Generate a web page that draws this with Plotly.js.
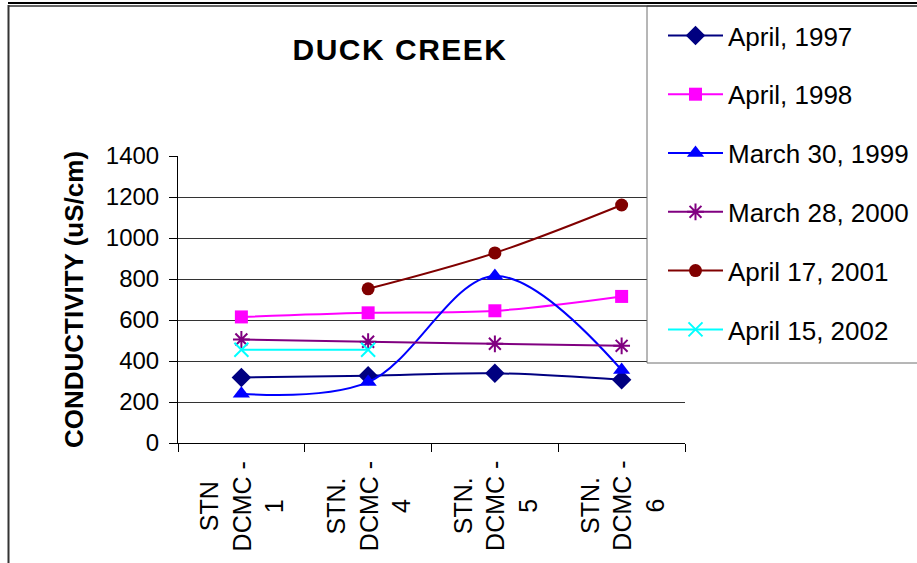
<!DOCTYPE html>
<html>
<head>
<meta charset="utf-8">
<script src="https://cdn.plot.ly/plotly-3.0.1.min.js"></script>
<style>
  html, body { margin: 0; padding: 0; background: #ffffff; }
  #chart { width: 917px; height: 563px; }
  /* the heading is set wide, with slightly open letter spacing */
  #chart .gtitle { letter-spacing: 1.5px; }
</style>
</head>
<body>
<div id="chart"></div>
<script>
// Sampling stations along Duck Creek (category axis)
const stations = ['STN<br>DCMC -<br>1', 'STN.<br>DCMC -<br>4', 'STN.<br>DCMC -<br>5', 'STN.<br>DCMC -<br>6'];

// Conductivity readings (uS/cm) per survey
const seriesNames = ['April, 1997', 'April, 1998', 'March 30, 1999', 'March 28, 2000', 'April 17, 2001', 'April 15, 2002'];
const apr1997 = [320, 328, 340, 308];
const apr1998 = [615, 635, 645, 715];
const mar1999 = [240, 297, 815, 356];
const mar2000 = [505, 494, 484, 474];
const apr2001 = [null, 752, 927, 1161];
const apr2002 = [455, 455, null, null];

const yTicks = [0, 200, 400, 600, 800, 1000, 1200, 1400];

const FONT = 'Liberation Sans, Arial, sans-serif';

// Plot-area geometry in pixels, used to place the frame and legend box
const W = 917, H = 563;
const M = { l: 178, r: 232, t: 156, b: 120 };
const pw = W - M.l - M.r, ph = H - M.t - M.b;
const px = v => (v - M.l) / pw;          // pixel x -> paper x
const py = v => (H - M.b - v) / ph;      // pixel y -> paper y

const styles = [
  { color: '#000080', symbol: 'diamond', size: 15 },
  { color: '#FF00FF', symbol: 'square', size: 13 },
  { color: '#0000FF', symbol: 'triangle-up', size: 15 },
  { color: '#800080', symbol: 'asterisk-open', size: 14 },
  { color: '#800000', symbol: 'circle', size: 13 },
  { color: '#00FFFF', symbol: 'x-thin-open', size: 14 }
];
const values = [apr1997, apr1998, mar1999, mar2000, apr2001, apr2002];

const traces = values.map((vals, i) => {
  const s = styles[i];
  const open = s.symbol.endsWith('open');
  return {
    type: 'scatter',
    mode: 'lines+markers',
    name: seriesNames[i],
    legendgroup: 'g' + i,
    x: stations,
    y: vals,
    connectgaps: false,
    line: { color: s.color, width: 2, shape: 'spline', smoothing: 1 },
    marker: {
      symbol: s.symbol,
      size: s.size,
      color: s.color,
      line: { color: s.color, width: open ? 2 : 0 }
    }
  };
});

// Rotated, centred station labels under each category
const stationLabels = stations.map(name => ({
  x: name,
  xref: 'x',
  y: py(459),
  yref: 'paper',
  text: name,
  showarrow: false,
  textangle: -90,
  align: 'center',
  xanchor: 'center',
  yanchor: 'top',
  font: { family: FONT, size: 25, color: '#000' }
}));

const layout = {
  width: W,
  height: H,
  margin: { l: M.l, r: M.r, t: M.t, b: M.b, autoexpand: false },
  paper_bgcolor: '#ffffff',
  plot_bgcolor: '#ffffff',
  font: { family: FONT, color: '#000' },
  title: {
    text: '<b>DUCK CREEK</b>',
    font: { family: FONT, size: 30, color: '#000' },
    xref: 'container', yref: 'container',
    x: 400 / W, y: 1 - 49 / H,
    xanchor: 'center', yanchor: 'middle'
  },
  xaxis: {
    type: 'category',
    categoryorder: 'array',
    categoryarray: stations,
    range: [-0.5, stations.length - 0.5],
    tickson: 'boundaries',
    ticks: 'outside',
    ticklen: 8,
    tickcolor: '#000',
    showticklabels: false,
    showgrid: false,
    showline: true,
    linecolor: '#000',
    linewidth: 1,
    zeroline: false,
    fixedrange: true
  },
  yaxis: {
    range: [0, 1400],
    tickvals: yTicks,
    ticktext: yTicks.map(String),
    ticks: 'outside',
    ticklen: 8,
    tickcolor: '#000',
    ticklabelstandoff: 5,
    tickfont: { family: FONT, size: 24, color: '#000' },
    showgrid: true,
    gridcolor: '#333',
    gridwidth: 1,
    showline: true,
    linecolor: '#000',
    linewidth: 1,
    zeroline: false,
    fixedrange: true,
    title: {
      text: '<b>CONDUCTIVITY (uS/cm)</b>',
      font: { family: FONT, size: 26, color: '#000' },
      standoff: 14
    }
  },
  showlegend: true,
  legend: {
    x: px(663),
    y: py(12),
    xanchor: 'left',
    yanchor: 'top',
    xref: 'paper',
    yref: 'paper',
    maxheight: 420,
    bgcolor: 'rgba(0,0,0,0)',
    borderwidth: 0,
    traceorder: 'grouped',
    tracegroupgap: 22,
    itemwidth: 55,
    font: { family: FONT, size: 26, color: '#000' }
  },
  shapes: [
    // legend panel
    { type: 'rect', xref: 'paper', yref: 'paper', layer: 'above',
      x0: px(647), x1: px(940), y0: py(363), y1: py(6),
      fillcolor: '#ffffff', line: { color: '#6e6e6e', width: 1 } },
    // outer frame: double rule along the top, border on the left
    { type: 'line', xref: 'paper', yref: 'paper', layer: 'above',
      x0: px(8), x1: px(940), y0: py(3), y1: py(3),
      line: { color: '#000', width: 2 } },
    { type: 'line', xref: 'paper', yref: 'paper', layer: 'above',
      x0: px(8), x1: px(940), y0: py(6), y1: py(6),
      line: { color: '#333', width: 1.5 } },
    { type: 'line', xref: 'paper', yref: 'paper', layer: 'above',
      x0: px(8.5), x1: px(8.5), y0: py(5), y1: py(580),
      line: { color: '#333', width: 2 } }
  ],
  annotations: stationLabels
};

Plotly.newPlot('chart', traces, layout, { displayModeBar: false, staticPlot: true });
</script>
</body>
</html>
